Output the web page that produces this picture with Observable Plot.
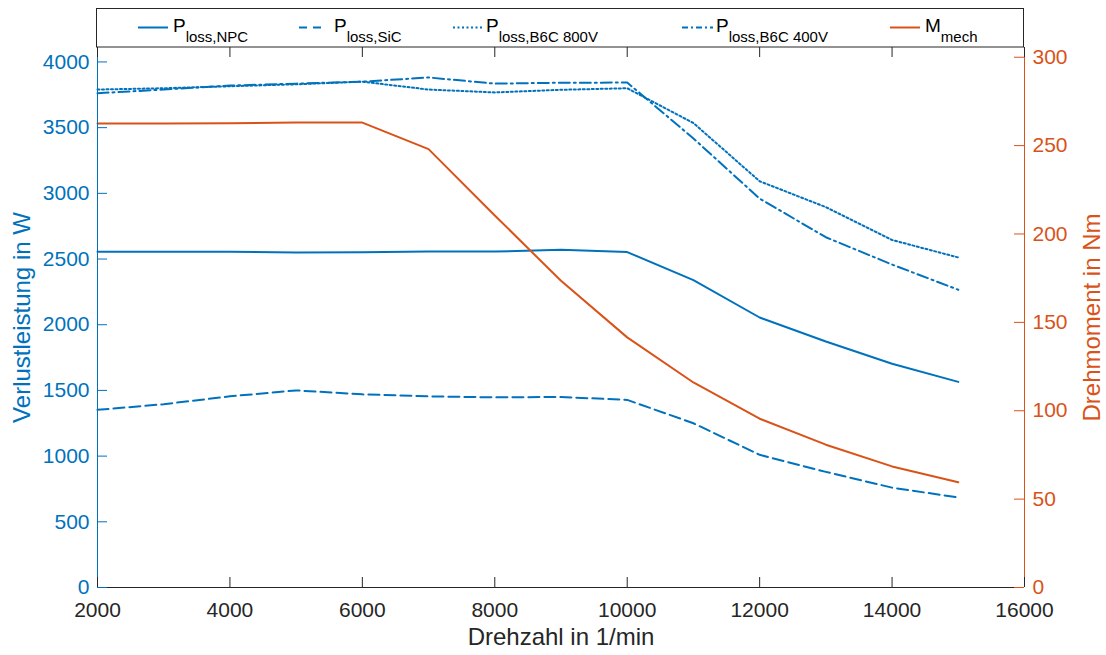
<!DOCTYPE html>
<html>
<head>
<meta charset="utf-8">
<script src="https://cdn.jsdelivr.net/npm/d3@7"></script>
<script src="https://cdn.jsdelivr.net/npm/@observablehq/plot@0.6"></script>
<style>
  html, body { margin: 0; padding: 0; background: #fff; }
  #wrap { position: relative; width: 1106px; height: 655px; overflow: hidden; font-family: "Liberation Sans", Arial, sans-serif; }
  #legend { position: absolute; left: 0; top: 0; }
  #chart { position: absolute; left: 0; top: 47px; }
</style>
</head>
<body>
<div id="wrap">
  <div id="chart"></div>
  <svg id="legend" width="1106" height="48"></svg>
</div>
<script>
// ---- data ----
const rpm      = [2000, 3000, 4000, 5000, 6000, 7000, 8000, 9000, 10000, 11000, 12000, 13000, 14000, 15000];
const pNPC     = [2555, 2555, 2555, 2550, 2552, 2557, 2557, 2570, 2553, 2340, 2055, 1872, 1703, 1565];
const pSiC     = [1352, 1395, 1455, 1500, 1470, 1455, 1447, 1450, 1428, 1250, 1010, 880, 760, 685];
const pB6C800  = [3790, 3800, 3815, 3830, 3850, 3790, 3768, 3788, 3800, 3535, 3092, 2895, 2645, 2512];
const pB6C400  = [3762, 3790, 3820, 3835, 3850, 3882, 3835, 3842, 3843, 3418, 2960, 2666, 2458, 2266];
const mMech    = [262.5, 262.5, 262.7, 263, 263, 248, 210.5, 173.5, 141.5, 116, 95.5, 80.8, 68.5, 59.5];

const xTicks     = [2000, 4000, 6000, 8000, 10000, 12000, 14000, 16000];
const leftTicks  = [0, 500, 1000, 1500, 2000, 2500, 3000, 3500, 4000];
const rightTicks = [0, 50, 100, 150, 200, 250, 300];

const seriesNames = ["NPC", "SiC", "B6C 800V", "B6C 400V"];
const seriesVals  = [pNPC, pSiC, pB6C800, pB6C400];

// ---- styles ----
const BLUE = "#0072BD", ORANGE = "#D95319", DARK = "#262626";
const dashes = {"NPC": null, "SiC": "11,5", "B6C 800V": "2,2.5", "B6C 400V": "11,4,2,4"};

const leftMax = 4110, rightMax = 305.5;
const k = leftMax / rightMax;

const W = 1106, H = 608;
const mL = 97, mR = 82, mT = 0, mB = 68;
const pw = W - mL - mR, ph = H - mT - mB;

const lossRows = [];
seriesNames.forEach((s, i) => rpm.forEach((r, j) => lossRows.push({series: s, rpm: r, value: seriesVals[i][j]})));
const mechRows = rpm.map((r, j) => ({rpm: r, m: mMech[j]}));

const font = "'Liberation Sans', Arial, sans-serif";

const lineMarks = seriesNames.map(s => Plot.line(lossRows.filter(d => d.series === s), {
  x: "rpm", y: "value", stroke: BLUE, strokeWidth: 2, strokeDasharray: dashes[s]
}));

const plot = Plot.plot({
  width: W, height: H,
  marginLeft: mL, marginRight: mR, marginTop: mT, marginBottom: mB,
  style: {fontFamily: font, fontSize: "21px", background: "white", overflow: "visible"},
  x: {domain: [2000, 16000]},
  y: {domain: [0, leftMax]},
  marks: [
    ...lineMarks,
    Plot.line(mechRows, {x: "rpm", y: d => d.m * k, stroke: ORANGE, strokeWidth: 2}),
    // axis lines
    Plot.ruleY([0], {stroke: DARK, strokeWidth: 1}),
    Plot.ruleX([2000], {stroke: BLUE, strokeWidth: 1}),
    Plot.ruleX([16000], {stroke: ORANGE, strokeWidth: 1}),
    // inward ticks
    Plot.tickX(xTicks, {x: d => d, stroke: DARK, insetTop: ph - 10}),
    Plot.tickX(xTicks, {x: d => d, stroke: DARK, insetBottom: ph - 10}),
    Plot.tickY(leftTicks, {y: d => d, stroke: BLUE, insetRight: pw - 10}),
    Plot.tickY(rightTicks, {y: d => d * k, stroke: ORANGE, insetLeft: pw - 10}),
    // tick labels
    Plot.axisX({ticks: xTicks, tickSize: 0, tickPadding: 15, tickFormat: d => String(d), color: DARK, label: null}),
    Plot.axisY({ticks: leftTicks, anchor: "left", tickSize: 0, tickPadding: 8, tickFormat: d => String(d), color: BLUE, label: null}),
    Plot.axisY({ticks: rightTicks.map(t => t * k), anchor: "right", tickSize: 0, tickPadding: 8, tickFormat: d => String(Math.round(d / k)), color: ORANGE, label: null}),
    // axis titles
    Plot.text(["Drehzahl in 1/min"], {frameAnchor: "bottom", dy: 50, fontSize: 24, fill: DARK, lineAnchor: "middle", textAnchor: "middle"}),
    Plot.text(["Verlustleistung in W"], {frameAnchor: "left", dx: -75, rotate: -90, fontSize: 24, fill: BLUE, lineAnchor: "middle", textAnchor: "middle"}),
    Plot.text(["Drehmoment in Nm"], {frameAnchor: "right", dx: 68, rotate: -90, fontSize: 24, fill: ORANGE, lineAnchor: "middle", textAnchor: "middle"})
  ]
});
document.getElementById("chart").appendChild(plot);

// ---- legend ----
const legendItems = [
  {main: "P", sub: "loss,NPC", dash: dashes["NPC"], color: BLUE, x1: 138, x2: 168, tx: 173},
  {main: "P", sub: "loss,SiC", dash: "8,6", color: BLUE, x1: 299, x2: 322, tx: 334},
  {main: "P", sub: "loss,B6C 800V", dash: dashes["B6C 800V"], color: BLUE, x1: 453, x2: 483, tx: 486},
  {main: "P", sub: "loss,B6C 400V", dash: "6,3,2,3", color: BLUE, x1: 682, x2: 713, tx: 716},
  {main: "M", sub: "mech", dash: null, color: ORANGE, x1: 890, x2: 920, tx: 925}
];
const lg = d3.select("#legend");
lg.append("rect").attr("x", 96.5).attr("y", 8.5).attr("width", 927).attr("height", 38.5)
  .attr("fill", "white").attr("stroke", DARK).attr("stroke-width", 1);
legendItems.forEach(it => {
  lg.append("line").attr("x1", it.x1).attr("x2", it.x2).attr("y1", 27.5).attr("y2", 27.5)
    .attr("stroke", it.color).attr("stroke-width", 2).attr("stroke-dasharray", it.dash);
  const t = lg.append("text").attr("x", it.tx).attr("y", 31.7)
    .attr("font-family", font).attr("font-size", 19).attr("fill", "#000");
  t.append("tspan").text(it.main);
  t.append("tspan").attr("dy", 10).attr("font-size", 15).text(it.sub);
});
</script>
</body>
</html>
